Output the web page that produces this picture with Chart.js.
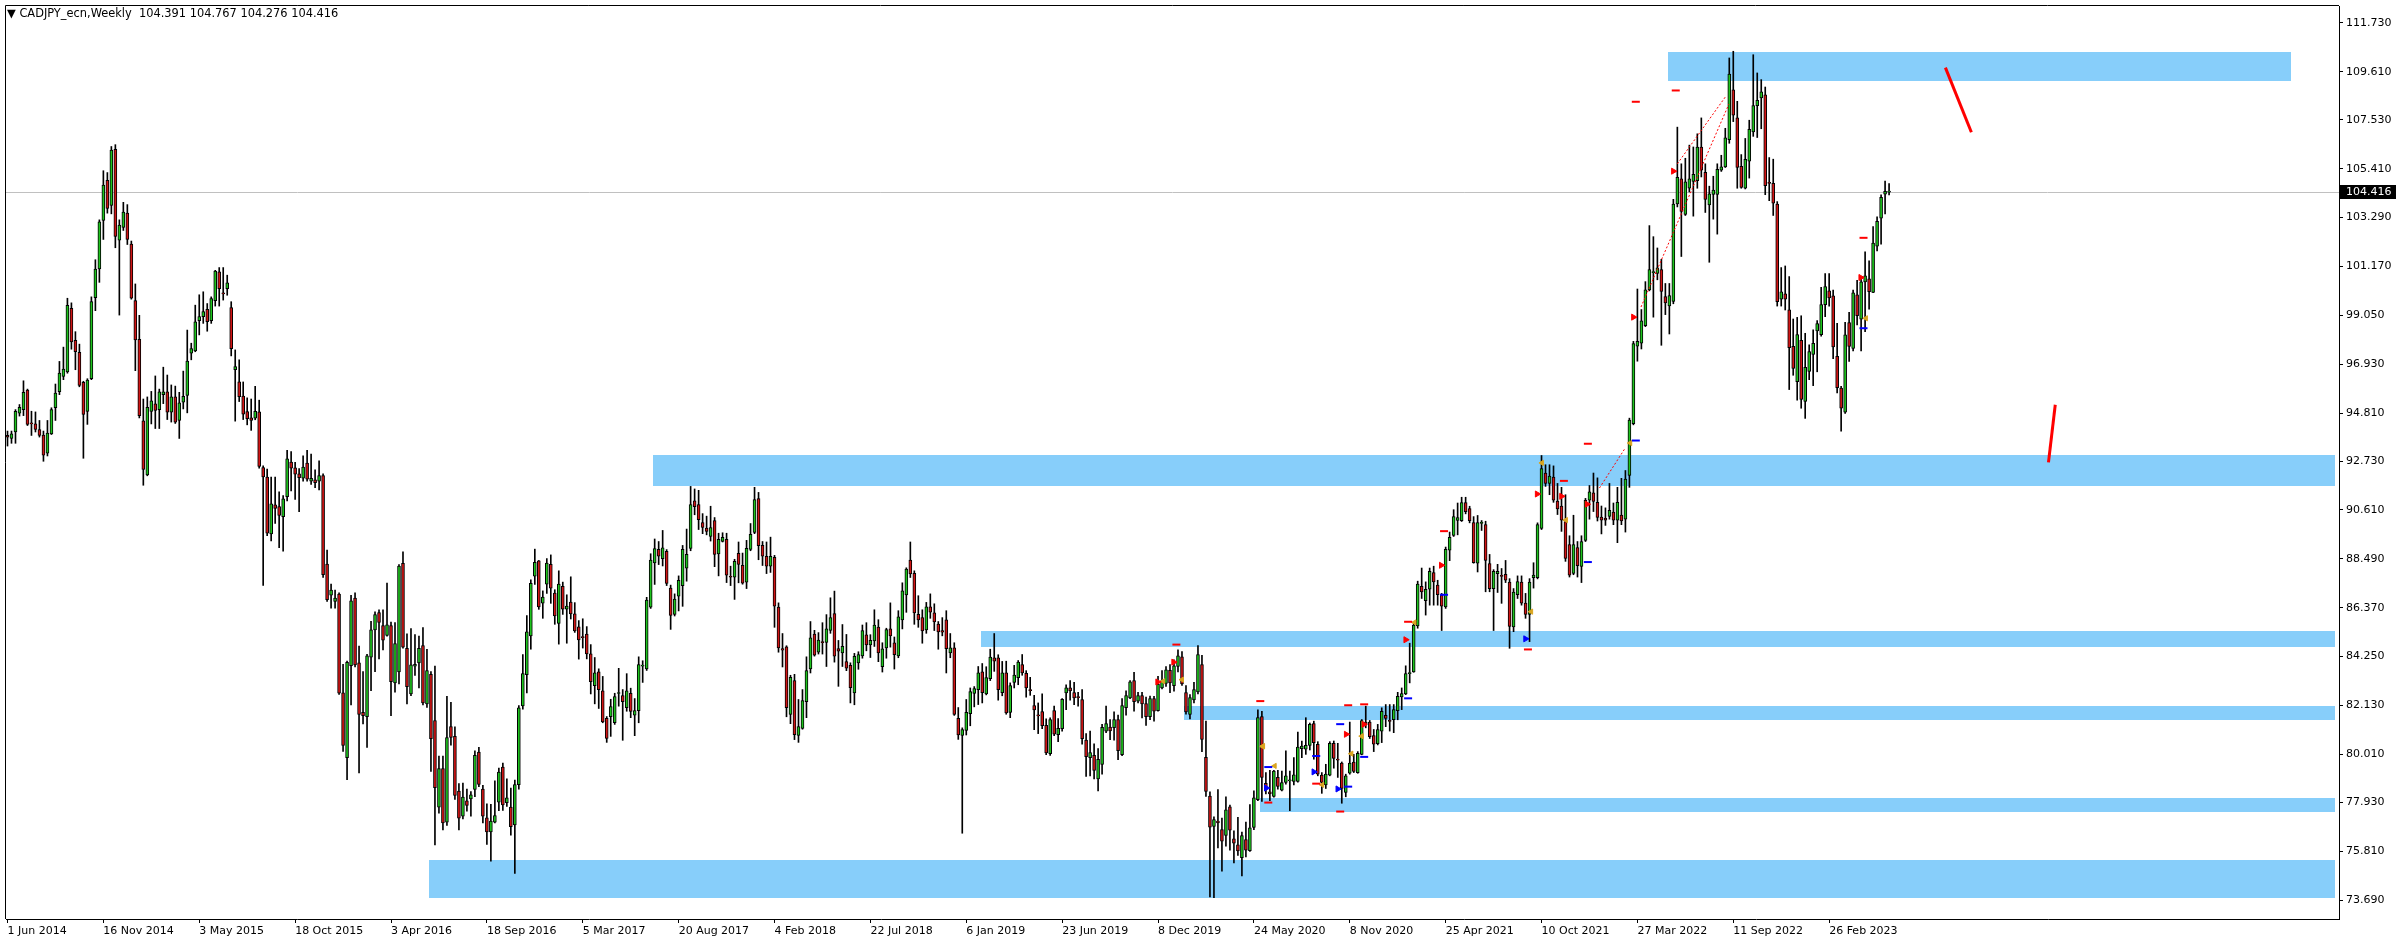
<!DOCTYPE html>
<html>
<head>
<meta charset="utf-8">
<title>CADJPY_ecn,Weekly</title>
<script src="https://cdn.jsdelivr.net/npm/chart.js@4.4.0/dist/chart.umd.min.js"></script>
<style>
  html, body { margin: 0; padding: 0; background: #fff; }
  #wrap { width: 2396px; height: 943px; }
</style>
</head>
<body>
<div id="wrap"><canvas id="chart" width="2396" height="943"></canvas></div>
<script>
// CADJPY weekly candles, bar 0 = week of 1 Jun 2014
const opens = [
  93.84, 93.71, 93.99, 94.81, 94.96, 95.81, 94.37, 94.34, 94.09, 93.86,
  93.07, 93.91, 95.04, 95.74, 96.40, 96.60, 99.35, 97.97, 97.44, 96.14,
  94.88, 96.30, 99.81, 101.06, 103.16, 104.90, 103.81, 106.25, 102.31, 102.86,
  103.48, 102.14, 99.69, 98.01, 94.47, 92.13, 94.88, 95.21, 94.96, 95.61,
  95.73, 94.85, 95.51, 94.49, 95.28, 95.58, 97.41, 97.51, 98.82, 98.99,
  99.31, 98.82, 99.68, 100.93, 100.02, 100.20, 99.38, 96.69, 96.16, 95.55,
  94.88, 94.60, 94.59, 94.86, 92.45, 92.04, 89.57, 90.83, 90.75, 90.32,
  91.19, 92.69, 92.44, 92.18, 91.99, 92.64, 91.86, 91.91, 91.86, 92.10,
  88.26, 86.91, 86.64, 86.96, 82.68, 79.87, 83.86, 86.79, 83.98, 81.83,
  81.64, 84.23, 85.41, 86.16, 85.60, 85.17, 85.60, 83.11, 83.59, 88.29,
  84.61, 82.63, 83.84, 83.98, 84.73, 82.20, 83.48, 81.47, 77.72, 79.39,
  77.07, 81.21, 80.79, 78.42, 77.33, 77.99, 78.08, 78.49, 80.11, 78.50,
  77.26, 76.65, 77.07, 77.94, 79.46, 77.91, 77.72, 76.95, 78.70, 82.11,
  83.47, 85.15, 87.74, 88.40, 86.57, 87.39, 88.25, 87.00, 85.69, 87.30,
  86.31, 86.61, 86.10, 85.54, 85.10, 85.23, 84.37, 82.99, 83.59, 82.77,
  81.57, 81.65, 81.38, 82.65, 82.56, 82.04, 82.66, 81.71, 81.91, 83.84,
  83.72, 86.39, 88.31, 88.90, 88.50, 88.81, 87.22, 86.08, 86.87, 87.33,
  88.08, 88.94, 91.00, 90.84, 90.06, 89.82, 89.46, 90.15, 88.70, 89.24,
  89.33, 87.72, 87.69, 88.73, 88.21, 87.48, 88.90, 89.63, 91.10, 89.07,
  88.60, 88.17, 88.55, 86.40, 84.60, 84.67, 81.74, 83.21, 80.83, 81.14,
  82.29, 83.72, 85.23, 84.44, 84.90, 84.87, 85.39, 86.11, 84.60, 84.41,
  84.03, 83.87, 82.67, 83.98, 84.28, 85.19, 84.76, 84.93, 85.53, 83.81,
  84.63, 85.45, 84.85, 84.28, 85.84, 86.92, 88.43, 87.86, 86.08, 85.94,
  85.41, 86.41, 86.15, 85.66, 85.38, 85.84, 84.41, 84.63, 81.57, 80.83,
  81.05, 81.78, 82.65, 82.82, 83.59, 82.63, 83.29, 84.20, 84.20, 82.69,
  83.55, 81.83, 83.13, 83.34, 83.90, 83.52, 82.82, 82.13, 81.71, 81.87,
  81.27, 80.04, 81.91, 80.86, 81.12, 82.67, 82.90, 82.69, 82.52, 82.39,
  80.63, 79.87, 79.97, 78.94, 79.57, 81.02, 81.19, 81.17, 81.52, 80.00,
  82.03, 82.46, 83.21, 82.32, 82.56, 82.21, 81.64, 82.43, 81.91, 82.89,
  83.09, 83.65, 82.99, 83.82, 84.24, 82.69, 81.74, 82.37, 82.72, 83.90,
  79.88, 78.20, 76.89, 77.12, 76.75, 76.49, 77.73, 76.35, 76.09, 75.53,
  76.32, 75.83, 76.84, 78.04, 81.65, 78.75, 78.39, 78.19, 79.01, 78.46,
  78.79, 78.86, 78.84, 78.84, 80.26, 80.23, 80.40, 81.35, 80.45, 79.11,
  78.68, 79.11, 80.49, 79.80, 79.63, 78.36, 79.19, 79.68, 79.22, 80.01,
  81.41, 81.41, 80.83, 80.47, 81.02, 81.70, 81.45, 81.52, 81.91, 82.50,
  82.63, 83.51, 83.59, 85.58, 87.30, 86.67, 87.17, 87.89, 87.35, 86.92,
  86.40, 88.86, 89.50, 90.15, 90.14, 90.93, 90.67, 90.06, 88.30, 90.02,
  89.98, 88.28, 87.20, 87.85, 87.75, 87.82, 87.48, 85.54, 86.94, 87.48,
  86.57, 86.08, 87.67, 87.67, 89.81, 92.21, 91.76, 92.03, 90.99, 90.78,
  90.10, 89.11, 87.86, 88.98, 88.16, 89.29, 91.03, 91.35, 90.94, 90.30,
  90.25, 90.33, 90.52, 90.17, 90.39, 90.21, 92.11, 94.35, 97.71, 97.84,
  98.60, 100.15, 100.90, 100.87, 101.03, 99.86, 99.46, 99.65, 103.88, 104.97,
  103.43, 104.56, 104.86, 104.89, 106.35, 105.25, 103.84, 104.29, 104.29, 105.34,
  105.49, 106.67, 108.83, 107.61, 105.51, 104.56, 105.73, 107.00, 108.14, 108.48,
  108.61, 104.81, 104.77, 103.87, 99.75, 99.98, 99.29, 97.70, 96.17, 97.96,
  95.32, 96.62, 97.35, 98.37, 98.21, 99.51, 100.11, 99.90, 97.27, 95.89,
  94.85, 98.73, 97.61, 99.94, 98.88, 100.50, 100.63, 100.04, 102.05, 103.26,
  104.30, 104.391
];
const highs = [
  94.03, 94.03, 94.96, 95.18, 96.21, 95.85, 94.89, 94.86, 94.49, 94.03,
  94.49, 95.04, 96.07, 97.05, 97.67, 99.79, 99.59, 98.34, 97.80, 96.19,
  96.30, 99.85, 101.46, 103.19, 105.32, 105.24, 106.37, 106.45, 103.19, 103.95,
  103.85, 102.27, 100.41, 99.05, 95.42, 95.51, 95.75, 96.42, 95.85, 96.80,
  96.46, 96.03, 95.98, 95.71, 96.63, 98.41, 97.84, 99.49, 99.94, 100.07,
  99.56, 99.85, 101.00, 101.12, 101.12, 100.79, 99.64, 97.55, 97.12, 96.16,
  95.47, 95.42, 95.97, 95.37, 92.52, 92.38, 92.04, 92.03, 91.40, 91.23,
  93.20, 93.14, 92.67, 92.40, 92.96, 93.20, 93.03, 92.35, 92.74, 92.18,
  88.87, 87.39, 87.13, 87.01, 83.91, 84.06, 86.91, 87.01, 84.71, 83.60,
  84.35, 85.78, 86.19, 86.28, 86.28, 87.44, 85.75, 85.72, 88.24, 88.79,
  85.24, 85.46, 85.20, 85.14, 85.51, 84.56, 83.60, 83.84, 79.94, 79.94,
  82.53, 82.27, 81.20, 78.74, 78.76, 78.50, 78.40, 80.16, 80.31, 78.67,
  77.87, 77.84, 78.86, 79.41, 79.63, 78.95, 78.55, 78.90, 82.13, 84.34,
  86.03, 87.58, 88.91, 88.42, 87.10, 88.50, 88.66, 87.15, 87.97, 87.48,
  86.93, 87.71, 86.59, 85.81, 85.89, 85.55, 84.77, 84.21, 83.72, 83.39,
  81.65, 82.40, 82.66, 83.74, 82.82, 83.51, 82.88, 82.43, 84.24, 84.07,
  86.82, 88.71, 89.35, 89.24, 89.72, 88.89, 87.35, 86.97, 87.75, 89.07,
  89.78, 91.63, 91.52, 91.46, 90.45, 90.34, 90.77, 90.28, 89.60, 89.62,
  89.60, 88.17, 88.47, 89.22, 88.74, 89.29, 90.02, 91.59, 91.37, 89.24,
  89.22, 89.43, 88.64, 86.58, 85.25, 84.72, 83.44, 83.48, 82.39, 82.82,
  84.24, 85.77, 85.39, 85.29, 85.72, 86.07, 86.80, 87.09, 84.95, 85.64,
  85.21, 83.98, 84.39, 84.46, 85.62, 85.72, 85.20, 86.28, 85.85, 84.85,
  85.48, 86.58, 85.10, 86.24, 87.45, 88.10, 89.22, 87.97, 86.89, 86.28,
  86.60, 86.97, 86.54, 85.77, 85.94, 86.24, 85.25, 84.85, 82.04, 81.16,
  82.39, 82.89, 82.95, 83.82, 83.95, 83.81, 84.57, 85.25, 84.33, 84.04,
  84.05, 83.11, 83.87, 84.08, 84.34, 83.64, 83.35, 82.57, 82.24, 82.63,
  81.55, 81.59, 82.10, 81.56, 82.43, 83.03, 83.21, 83.13, 82.70, 82.82,
  80.91, 81.02, 80.47, 80.26, 81.31, 82.10, 81.52, 81.85, 81.71, 82.43,
  82.77, 83.21, 83.57, 82.70, 82.70, 82.49, 82.54, 82.53, 83.39, 83.64,
  83.82, 83.90, 84.11, 84.54, 84.47, 82.99, 82.60, 83.13, 84.73, 84.30,
  81.45, 78.39, 77.30, 78.48, 77.25, 78.17, 77.81, 76.69, 77.28, 76.64,
  77.07, 77.83, 78.43, 81.94, 81.88, 79.22, 79.32, 79.32, 79.32, 79.29,
  80.16, 79.29, 79.87, 80.98, 80.59, 81.60, 81.37, 81.45, 80.56, 79.22,
  79.58, 80.56, 80.59, 80.49, 79.68, 79.15, 81.41, 80.01, 80.13, 81.52,
  82.10, 81.48, 81.09, 81.31, 82.03, 82.17, 82.17, 82.17, 82.70, 82.89,
  83.85, 84.83, 85.69, 87.52, 88.09, 87.49, 88.09, 88.17, 87.56, 86.99,
  89.00, 89.65, 90.62, 90.91, 91.16, 91.16, 90.77, 90.32, 90.37, 90.15,
  90.12, 88.68, 88.02, 88.25, 88.07, 88.42, 87.63, 87.20, 87.75, 87.75,
  86.99, 87.63, 88.32, 90.05, 92.97, 92.57, 92.57, 92.52, 91.76, 91.59,
  91.27, 89.49, 90.38, 89.24, 89.49, 91.11, 91.67, 92.21, 92.00, 90.78,
  90.70, 91.76, 90.91, 91.59, 91.98, 92.32, 94.59, 97.92, 100.19, 99.30,
  100.51, 102.94, 102.46, 101.97, 101.48, 100.43, 100.43, 104.08, 107.21, 105.62,
  105.86, 106.43, 106.35, 106.92, 107.61, 105.62, 104.65, 105.08, 105.62, 105.99,
  107.16, 110.21, 110.50, 108.33, 106.02, 106.72, 107.51, 110.35, 109.56, 109.27,
  108.95, 105.89, 105.82, 103.98, 101.12, 101.19, 100.73, 98.89, 98.96, 99.03,
  98.27, 97.77, 98.42, 98.82, 100.26, 100.86, 100.86, 100.14, 98.70, 95.97,
  98.75, 99.18, 100.14, 100.57, 100.62, 101.80, 101.41, 102.90, 103.32, 104.27,
  104.87, 104.767
];
const lows = [
  93.38, 93.50, 93.50, 94.68, 94.70, 94.27, 93.84, 93.99, 93.77, 92.72,
  92.95, 93.88, 94.49, 95.61, 96.26, 96.54, 97.58, 96.69, 95.95, 92.85,
  94.32, 96.26, 99.25, 100.48, 102.34, 103.48, 103.45, 101.98, 99.06, 102.73,
  102.12, 99.75, 96.65, 94.60, 91.68, 92.09, 94.34, 94.14, 94.14, 95.22,
  94.53, 94.42, 94.36, 93.71, 94.99, 94.82, 97.12, 97.47, 98.20, 98.70,
  98.36, 98.70, 99.45, 99.45, 99.71, 99.92, 97.29, 94.46, 95.31, 94.53,
  94.30, 94.06, 94.52, 92.42, 87.34, 89.49, 89.27, 90.03, 88.97, 88.82,
  91.00, 91.43, 91.07, 90.53, 91.86, 91.86, 91.72, 91.58, 91.48, 87.68,
  86.64, 86.35, 86.35, 82.61, 80.14, 78.91, 82.15, 83.80, 79.20, 81.33,
  80.31, 82.77, 83.60, 84.15, 84.54, 85.14, 81.69, 82.71, 83.07, 84.61,
  82.20, 82.55, 83.43, 82.89, 82.15, 82.05, 79.27, 76.08, 77.46, 76.73,
  76.93, 80.41, 78.06, 76.73, 77.21, 77.55, 77.33, 78.18, 78.61, 77.04,
  76.11, 75.38, 77.04, 77.57, 77.58, 77.75, 76.51, 74.85, 78.50, 81.97,
  82.67, 84.57, 87.38, 86.30, 85.91, 86.99, 86.56, 85.65, 84.79, 86.08,
  84.83, 85.88, 85.30, 84.14, 84.62, 84.15, 82.63, 82.20, 82.00, 81.38,
  80.53, 80.79, 81.31, 82.10, 80.62, 81.88, 81.60, 80.82, 81.38, 83.13,
  83.65, 86.34, 87.38, 88.24, 88.18, 87.33, 85.43, 86.01, 86.23, 86.43,
  87.52, 88.84, 90.40, 89.76, 89.58, 89.53, 89.26, 88.15, 87.75, 89.22,
  87.46, 87.33, 86.73, 87.45, 87.39, 87.20, 88.84, 89.58, 88.45, 88.20,
  87.85, 87.90, 85.52, 84.44, 83.80, 81.64, 81.34, 80.65, 80.53, 81.10,
  81.60, 83.54, 84.27, 84.36, 84.36, 83.82, 85.26, 84.01, 82.96, 83.82,
  83.64, 82.24, 82.16, 83.70, 84.18, 84.50, 84.21, 84.69, 84.03, 83.58,
  84.18, 84.66, 83.71, 84.20, 85.45, 86.17, 87.68, 85.65, 85.52, 84.83,
  85.26, 85.91, 85.38, 84.57, 85.15, 83.54, 84.20, 81.70, 80.66, 76.59,
  80.85, 81.25, 82.07, 82.17, 82.24, 82.59, 83.21, 83.61, 82.36, 82.55,
  81.75, 81.60, 82.89, 83.03, 83.44, 82.49, 82.57, 81.08, 80.91, 81.12,
  80.00, 79.96, 80.82, 80.56, 81.02, 81.95, 82.36, 82.16, 82.10, 80.45,
  79.05, 79.08, 78.95, 78.43, 79.15, 80.95, 80.65, 80.63, 79.78, 79.95,
  81.71, 82.43, 81.88, 82.24, 81.59, 81.27, 81.52, 81.45, 81.88, 82.85,
  82.96, 82.69, 82.75, 83.58, 83.00, 81.75, 81.55, 82.24, 82.63, 80.13,
  78.19, 73.83, 73.80, 75.95, 74.95, 76.03, 75.86, 75.30, 75.63, 74.74,
  75.56, 75.80, 76.74, 78.00, 77.97, 78.29, 78.00, 78.15, 78.50, 78.43,
  78.72, 77.57, 78.69, 78.80, 79.87, 80.01, 80.20, 79.80, 79.08, 78.32,
  78.53, 79.08, 79.41, 79.01, 77.89, 78.17, 79.15, 79.22, 79.19, 79.99,
  81.16, 80.70, 80.13, 80.42, 80.52, 81.21, 81.02, 80.95, 81.51, 81.95,
  82.60, 83.11, 83.57, 85.48, 86.77, 86.05, 86.48, 86.48, 86.48, 85.38,
  86.34, 88.41, 89.46, 89.53, 90.11, 90.44, 90.05, 88.30, 87.92, 89.72,
  87.06, 87.06, 85.38, 87.03, 86.56, 87.46, 84.61, 85.33, 86.77, 86.48,
  85.91, 84.90, 87.22, 87.62, 89.76, 91.63, 91.27, 90.94, 90.41, 89.68,
  88.38, 87.70, 87.80, 87.70, 87.46, 89.24, 90.21, 90.54, 90.13, 89.57,
  89.94, 90.21, 89.97, 89.19, 89.97, 89.65, 91.59, 94.30, 97.06, 97.59,
  98.56, 100.11, 98.97, 100.59, 97.75, 99.08, 98.24, 99.55, 103.75, 101.60,
  103.38, 104.40, 103.35, 104.56, 105.05, 103.51, 101.35, 103.22, 102.57, 105.29,
  105.46, 106.51, 107.45, 104.56, 104.56, 104.53, 105.00, 106.81, 106.76, 107.14,
  104.28, 104.02, 103.38, 99.45, 99.45, 99.28, 95.83, 96.45, 95.37, 95.02,
  94.58, 96.26, 96.00, 96.60, 98.15, 98.99, 99.45, 97.17, 95.68, 94.03,
  94.80, 97.05, 97.51, 98.63, 97.51, 98.34, 99.32, 100.03, 101.84, 102.13,
  103.45, 104.276
];
const closes = [
  93.77, 93.91, 94.89, 95.06, 95.71, 94.32, 94.34, 94.10, 93.84, 92.98,
  93.94, 94.96, 95.68, 96.54, 96.72, 99.48, 97.90, 97.47, 96.01, 94.75,
  96.24, 99.64, 101.06, 103.10, 104.70, 103.69, 106.21, 102.47, 102.96, 103.53,
  102.34, 99.79, 97.98, 94.70, 92.37, 95.06, 95.34, 94.93, 95.73, 95.73,
  94.85, 95.51, 94.42, 95.25, 95.54, 97.06, 97.61, 98.77, 99.00, 99.21,
  98.77, 99.77, 100.97, 100.20, 99.98, 100.46, 97.60, 96.83, 95.52, 94.76,
  94.57, 94.49, 94.89, 92.50, 92.04, 89.60, 90.88, 90.68, 90.37, 91.09,
  92.83, 92.42, 92.16, 92.01, 92.47, 91.94, 91.98, 91.79, 92.10, 87.80,
  86.72, 87.13, 86.79, 82.66, 80.40, 84.00, 86.67, 83.89, 81.74, 81.69,
  84.28, 85.41, 86.07, 85.73, 84.96, 85.63, 83.16, 84.81, 88.17, 84.66,
  82.95, 83.89, 83.91, 84.61, 82.24, 83.64, 80.69, 78.57, 79.39, 77.04,
  80.74, 80.74, 78.23, 77.24, 78.16, 77.80, 78.25, 79.97, 78.71, 77.33,
  76.65, 77.12, 77.36, 79.24, 77.82, 78.13, 76.87, 78.70, 82.03, 83.51,
  85.32, 87.43, 88.34, 86.40, 86.83, 88.30, 87.22, 86.01, 87.39, 86.31,
  86.44, 86.10, 85.36, 84.97, 85.07, 84.37, 83.16, 83.55, 82.82, 81.42,
  80.70, 82.08, 82.52, 82.66, 82.30, 82.77, 81.87, 81.91, 83.90, 83.85,
  86.70, 88.43, 88.93, 88.60, 88.97, 87.42, 86.04, 86.74, 87.56, 88.90,
  88.68, 90.84, 90.75, 90.19, 89.85, 89.68, 89.85, 88.68, 89.33, 89.42,
  87.78, 87.69, 88.38, 88.25, 87.43, 88.94, 89.55, 91.06, 89.06, 88.60,
  88.17, 88.60, 86.44, 84.63, 84.53, 82.03, 83.35, 80.86, 81.22, 82.34,
  83.64, 85.06, 84.31, 84.97, 84.85, 85.45, 85.94, 84.27, 84.49, 84.69,
  83.75, 82.90, 84.26, 84.34, 85.38, 84.76, 84.95, 85.62, 84.41, 84.59,
  85.42, 85.15, 84.33, 85.97, 87.10, 88.05, 87.84, 86.14, 85.84, 85.36,
  86.41, 86.18, 85.75, 85.32, 85.31, 84.59, 84.63, 81.74, 80.85, 81.09,
  81.83, 82.73, 82.86, 83.55, 82.69, 83.34, 84.23, 84.05, 82.82, 83.55,
  81.81, 82.99, 83.45, 84.01, 83.54, 82.89, 82.77, 81.94, 81.68, 81.25,
  80.07, 81.52, 80.89, 81.14, 82.40, 82.90, 82.76, 82.46, 82.47, 80.69,
  79.91, 80.09, 79.31, 79.80, 81.18, 81.35, 81.03, 81.52, 80.17, 82.13,
  82.56, 83.16, 82.29, 82.56, 82.20, 81.64, 82.43, 81.88, 83.06, 83.21,
  83.68, 83.11, 83.85, 84.28, 83.06, 81.85, 82.47, 82.82, 84.34, 80.66,
  78.40, 76.85, 77.18, 77.04, 76.25, 77.61, 76.72, 76.16, 75.82, 76.49,
  75.86, 76.82, 78.12, 81.61, 79.01, 78.52, 78.29, 79.28, 78.62, 78.79,
  79.08, 78.89, 79.12, 80.33, 80.37, 80.40, 81.31, 80.52, 79.15, 78.79,
  79.15, 80.49, 79.83, 79.76, 78.53, 79.08, 79.63, 79.27, 80.06, 81.48,
  81.31, 80.78, 80.45, 81.09, 81.88, 81.57, 81.44, 81.95, 82.53, 82.65,
  83.51, 83.55, 85.62, 87.39, 87.05, 87.17, 87.95, 87.49, 86.94, 86.44,
  88.90, 89.42, 90.32, 90.28, 90.93, 90.54, 90.14, 88.32, 90.06, 90.08,
  88.42, 87.20, 87.95, 87.95, 87.73, 87.56, 85.56, 87.05, 87.50, 86.57,
  86.08, 87.48, 87.78, 89.97, 92.40, 91.76, 92.08, 91.03, 90.65, 90.17,
  88.51, 87.78, 89.11, 88.19, 89.24, 91.03, 91.40, 90.98, 90.28, 90.17,
  90.17, 90.59, 90.17, 90.94, 90.13, 91.95, 94.51, 97.82, 97.92, 98.81,
  100.15, 101.03, 100.95, 101.11, 100.09, 99.59, 99.91, 103.87, 105.03, 103.56,
  104.84, 104.97, 105.16, 106.35, 105.34, 104.08, 104.32, 104.48, 105.38, 105.49,
  106.75, 109.51, 107.73, 105.46, 104.60, 105.81, 107.11, 108.15, 108.37, 108.74,
  104.67, 104.77, 103.91, 99.64, 100.07, 99.75, 97.65, 96.75, 98.21, 95.40,
  96.79, 97.48, 97.84, 98.69, 99.51, 100.30, 99.80, 97.68, 95.91, 95.02,
  98.20, 97.70, 100.03, 99.03, 100.50, 100.76, 100.07, 102.18, 103.13, 104.17,
  104.43, 104.416
];

// one date label every 24 bars
const dateLabels = ['1 Jun 2014', '16 Nov 2014', '3 May 2015', '18 Oct 2015', '3 Apr 2016',
  '18 Sep 2016', '5 Mar 2017', '20 Aug 2017', '4 Feb 2018', '22 Jul 2018', '6 Jan 2019',
  '23 Jun 2019', '8 Dec 2019', '24 May 2020', '8 Nov 2020', '25 Apr 2021', '10 Oct 2021',
  '27 Mar 2022', '11 Sep 2022', '26 Feb 2023'];
const priceTicks = [111.730, 109.610, 107.530, 105.410, 103.290, 101.170, 99.050, 96.930, 94.810,
  92.730, 90.610, 88.490, 86.370, 84.250, 82.130, 80.010, 77.930, 75.810, 73.690];
const lastPrice = 104.416;
const headerText = '\u25BC CADJPY_ecn,Weekly  104.391 104.767 104.276 104.416';

// support / resistance boxes (bar positions and prices)
const zoneStart = [415.6, 161.6, 243.6, 294.6, 313.6, 105.6];
const zoneEnd = [571.6, 582.6, 582.6, 582.6, 582.6, 582.6];
const zoneHigh = [110.48, 92.98, 85.34, 82.10, 78.10, 75.41];
const zoneLow = [109.23, 91.66, 84.66, 81.49, 77.50, 73.76];

// hand drawn red strokes on the right
const stroke1X = [485.1, 491.6], stroke1Y = [109.79, 106.99];
const stroke2X = [512.6, 510.9], stroke2Y = [95.17, 92.67];

// dotted trend lines
const trendAX = [398.5, 404.9], trendAY = [91.56, 93.28];
const trendBX = [408.9, 430.9], trendBY = [99.41, 108.21];
const trendCX = [418.0, 430.1], trendCY = [105.62, 108.54];

// small level markers
const redMarkX = [417.6, 407.6, 395.6, 389.6, 464.6, 292.6, 313.6, 315.6, 335.6, 339.6, 327.6, 333.6, 350.6, 359.6, 380.6];
const redMarkY = [108.80, 108.31, 93.48, 91.87, 102.41, 84.77, 82.32, 77.92, 82.14, 82.18, 78.74, 77.53, 85.76, 89.69, 84.56];
const blueMarkX = [407.6, 395.6, 464.6, 315.6, 333.6, 339.6, 327.6, 335.6, 350.6, 359.6];
const blueMarkY = [93.62, 88.35, 98.49, 79.46, 81.32, 79.90, 79.94, 78.61, 82.44, 86.93];

// arrow signals (right pointing) and small gold flags (left pointing)
const redArrowX = [417.0, 407.0, 382.9, 389.0, 395.4, 350.0, 358.9, 335.1, 339.5, 287.9, 291.9, 463.9];
const redArrowY = [105.30, 98.97, 91.30, 91.20, 90.86, 84.98, 88.21, 80.88, 81.31, 83.15, 84.01, 100.69];
const blueArrowX = [380.0, 327.0, 333.0, 315.1];
const blueArrowY = [85.02, 79.25, 78.51, 78.55];
const flagX = [384.1, 390.1, 406.2, 352.2, 336.4, 339.0, 317.2, 314.3, 329.1, 381.4, 289.3, 294.0, 314.2, 465.2];
const flagY = [92.65, 90.17, 93.51, 85.73, 80.04, 80.80, 79.51, 80.37, 78.69, 86.20, 83.18, 83.25, 80.35, 98.92];

const UP = '#1EC31E';
const DOWN = '#D01515';
const FONT = { family: 'DejaVu Sans', size: 11 };

const bodyData = opens.map((o, i) => ({ x: i, y: [o, closes[i]] }));
const wickData = opens.map((o, i) => ({ x: i, y: [lows[i], highs[i]] }));
const bodyColors = opens.map((o, i) => closes[i] >= o ? UP : DOWN);
const pts = (xs, ys) => xs.map((v, k) => ({ x: v, y: ys[k] }));
const dotted = (xs, ys) => ({ type: 'line', data: pts(xs, ys), borderColor: '#FF0000', borderWidth: 1,
  borderDash: [2, 2], pointRadius: 0, order: -1 });
const marks = (xs, ys, style, color, rot, r) => ({ type: 'scatter', data: pts(xs, ys), pointStyle: style,
  rotation: rot, pointRadius: r, backgroundColor: color, borderColor: color, borderWidth: style === 'line' ? 2 : 1, order: -1 });

const overlay = {
  id: 'overlay',
  beforeDatasetsDraw(chart) {
    const { ctx, chartArea: a, scales: { x, y } } = chart;
    ctx.save();
    ctx.beginPath();
    ctx.rect(a.left, a.top, a.width, a.height);
    ctx.clip();
    ctx.fillStyle = '#87CEFA';
    for (let k = 0; k < zoneLow.length; k++) {
      const x0 = Math.round(x.getPixelForValue(zoneStart[k]));
      const x1 = Math.round(x.getPixelForValue(zoneEnd[k]));
      const y0 = Math.round(y.getPixelForValue(zoneHigh[k]));
      const y1 = Math.round(y.getPixelForValue(zoneLow[k]));
      ctx.fillRect(x0, y0, x1 - x0, y1 - y0);
    }
    const py = Math.round(y.getPixelForValue(lastPrice)) + 0.5;
    ctx.strokeStyle = '#C0C0C0';
    ctx.lineWidth = 1;
    ctx.beginPath();
    ctx.moveTo(a.left, py);
    ctx.lineTo(a.right, py);
    ctx.stroke();
    ctx.restore();
  },
  afterDraw(chart) {
    const { ctx, chartArea: a, scales: { y } } = chart;
    ctx.save();
    // top and left side of the frame
    ctx.strokeStyle = '#000';
    ctx.lineWidth = 1;
    ctx.beginPath();
    ctx.moveTo(a.left - 0.5, a.bottom);
    ctx.lineTo(a.left - 0.5, a.top - 0.5);
    ctx.lineTo(a.right, a.top - 0.5);
    ctx.stroke();
    ctx.font = '11.4px "DejaVu Sans"';
    ctx.fillStyle = '#000';
    ctx.textBaseline = 'alphabetic';
    ctx.fillText(headerText, 7, 17);
    // last price tag on the axis
    const py = Math.round(y.getPixelForValue(lastPrice));
    ctx.fillRect(a.right + 1, py - 7, chart.width - a.right - 1, 14);
    ctx.fillStyle = '#fff';
    ctx.font = '11px "DejaVu Sans"';
    ctx.textBaseline = 'middle';
    ctx.fillText(lastPrice.toFixed(3), a.right + 7, py + 0.5);
    ctx.restore();
  }
};

new Chart(document.getElementById('chart'), {
  type: 'bar',
  data: {
    datasets: [
      { type: 'line', data: pts(stroke1X, stroke1Y), borderColor: '#FF0000', borderWidth: 3, pointRadius: 0, order: -2 },
      { type: 'line', data: pts(stroke2X, stroke2Y), borderColor: '#FF0000', borderWidth: 3, pointRadius: 0, order: -2 },
      dotted(trendAX, trendAY),
      dotted(trendBX, trendBY),
      dotted(trendCX, trendCY),
      marks(redMarkX, redMarkY, 'line', '#FF0000', 0, 4),
      marks(blueMarkX, blueMarkY, 'line', '#0000FF', 0, 4),
      marks(redArrowX, redArrowY, 'triangle', '#FF0000', 90, 3.5),
      marks(blueArrowX, blueArrowY, 'triangle', '#0000FF', 90, 3.5),
      marks(flagX, flagY, 'triangle', '#DAA520', 270, 3),
      { data: bodyData, backgroundColor: bodyColors, borderColor: '#000', borderWidth: 1, borderSkipped: false,
        barThickness: 3, minBarLength: 1, grouped: false, order: 1 },
      { data: wickData, backgroundColor: '#000', borderWidth: 0, barThickness: 1, grouped: false, order: 2 }
    ]
  },
  options: {
    responsive: false,
    animation: false,
    devicePixelRatio: 1,
    events: [],
    layout: { padding: { left: 3, top: 1, right: 0, bottom: 0 } },
    plugins: { legend: { display: false }, tooltip: { enabled: false } },
    scales: {
      x: {
        type: 'linear',
        min: -0.375,
        max: 583.625,
        offset: false,
        afterBuildTicks: s => { s.ticks = dateLabels.map((_, k) => ({ value: k * 24 })); },
        afterFit: s => { s.height = 24; s.paddingLeft = 0; s.paddingRight = 0; },
        ticks: {
          callback: v => dateLabels[Math.round(v / 24)],
          align: 'start', autoSkip: false, maxRotation: 0, minRotation: 0,
          padding: 2, color: '#000', font: FONT
        },
        grid: { offset: false, drawOnChartArea: false, tickLength: 4, color: '#000' },
        border: { display: true, color: '#000', width: 1 }
      },
      y: {
        type: 'linear',
        position: 'right',
        min: 72.8706,
        max: 112.4632,
        afterBuildTicks: s => { s.ticks = priceTicks.map(v => ({ value: v })); },
        afterFit: s => { s.width = 57; s.paddingTop = 0; s.paddingBottom = 0; },
        ticks: { callback: v => v.toFixed(3), autoSkip: false, padding: 3, color: '#000', font: FONT },
        grid: { drawOnChartArea: false, tickLength: 4, color: '#000' },
        border: { display: true, color: '#000', width: 1 }
      }
    }
  },
  plugins: [overlay]
});
</script>
</body>
</html>
